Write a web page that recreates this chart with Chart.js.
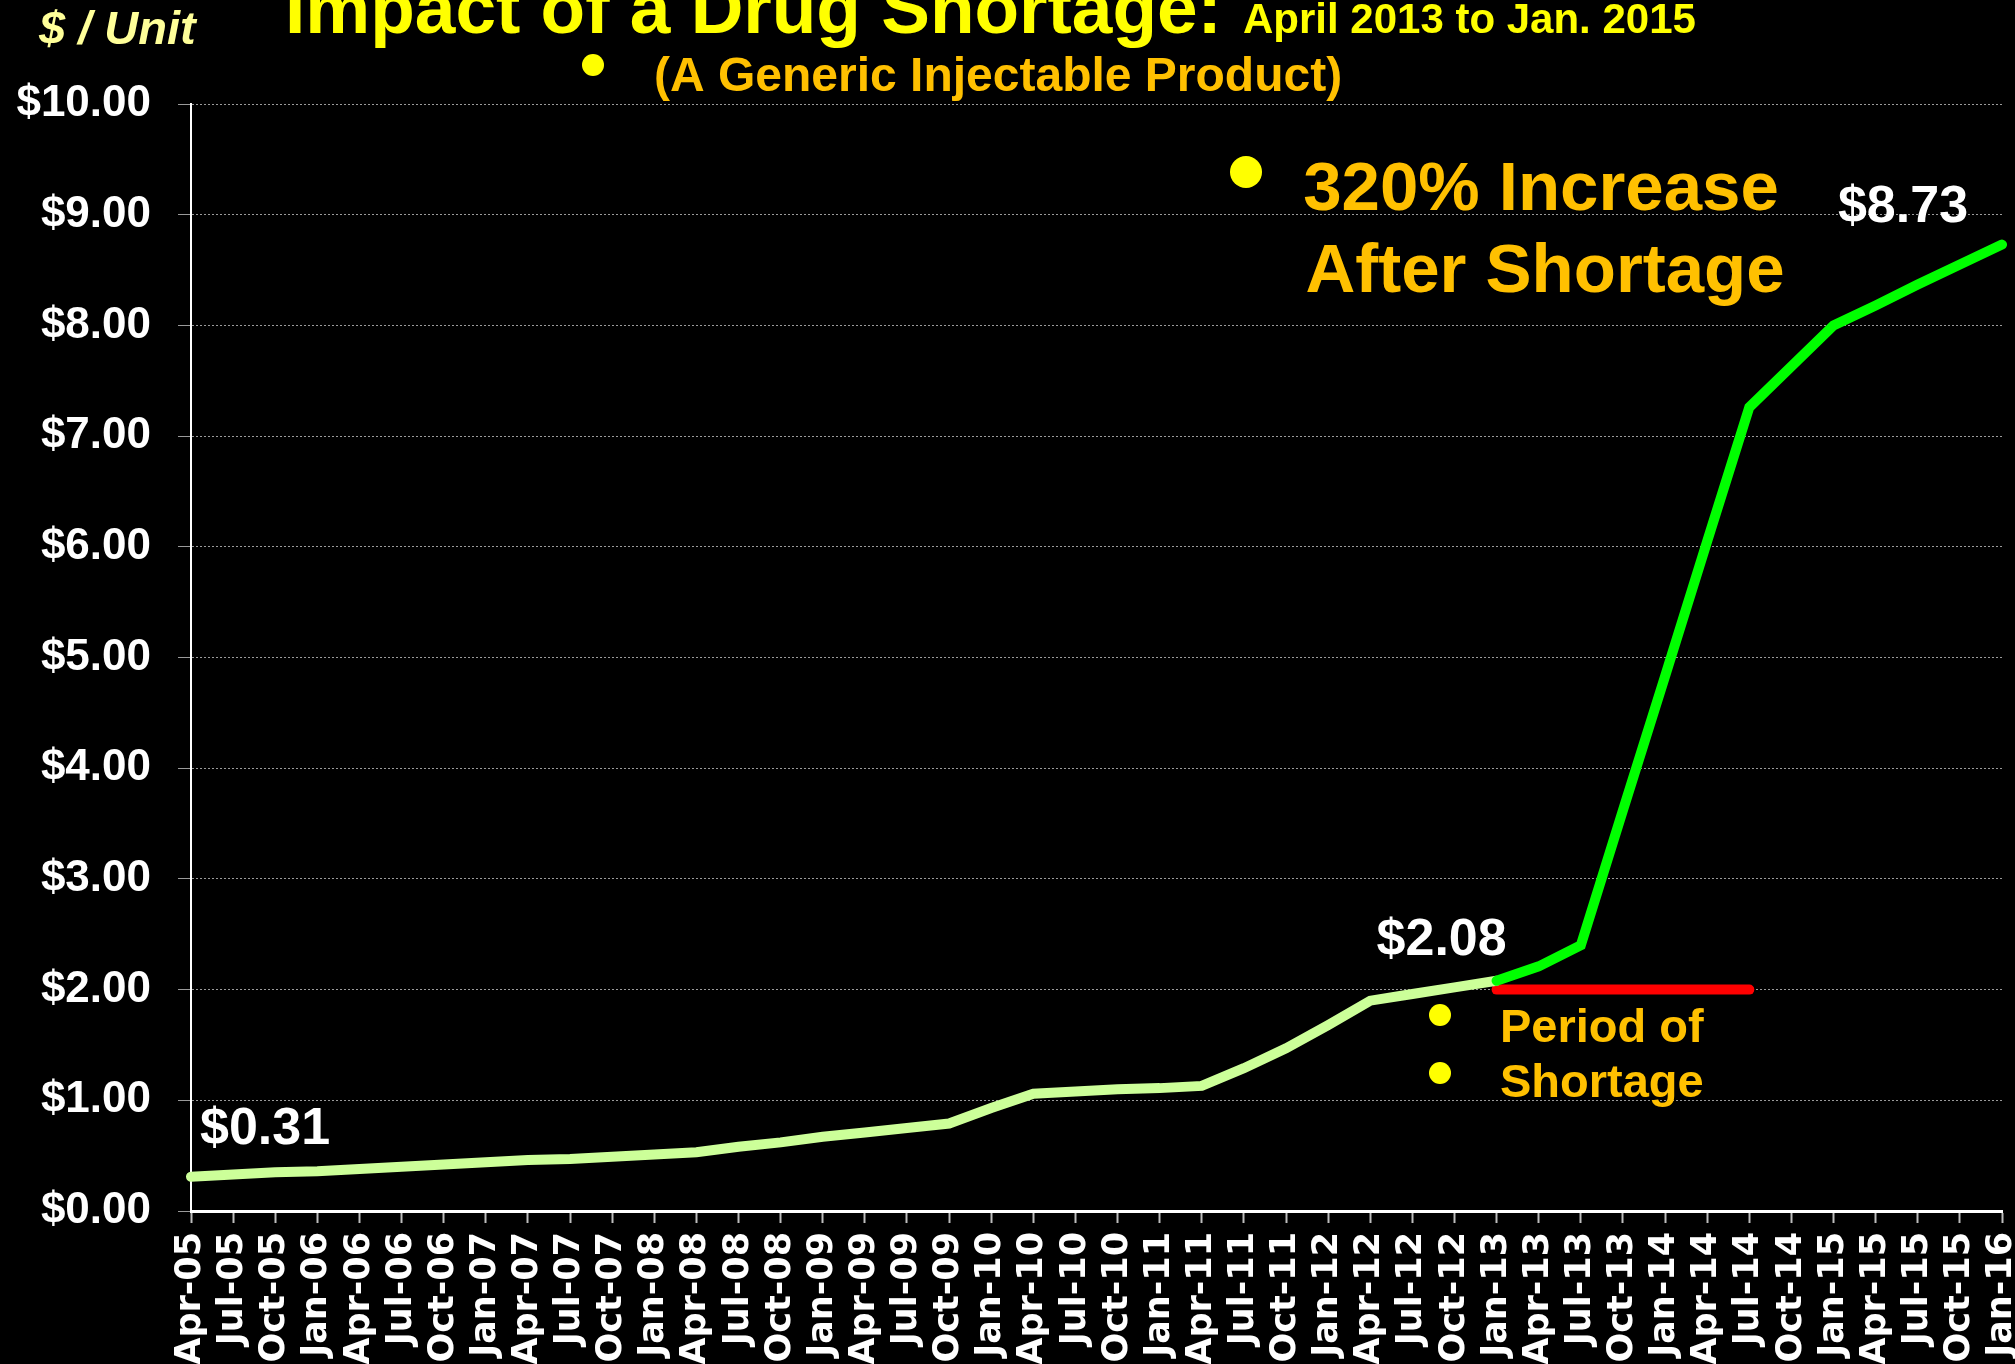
<!DOCTYPE html>
<html lang="en">
<head>
    <meta charset="UTF-8">
    <title>Impact of a Drug Shortage</title>
    <style>
        html, body { margin: 0; padding: 0; background: #000; }
        #myChart { width: 2015px !important; height: 1364px !important; display: block; }
    </style>
    <script src="https://cdn.jsdelivr.net/npm/chart.js"></script>
</head>
<body>
    <canvas id="myChart" width="2015" height="1364"></canvas>
    <script>
        // quarterly labels, Apr-05 .. Jan-16
        const quarters = ['Apr-05','Jul-05','Oct-05','Jan-06','Apr-06','Jul-06','Oct-06','Jan-07','Apr-07','Jul-07','Oct-07',
            'Jan-08','Apr-08','Jul-08','Oct-08','Jan-09','Apr-09','Jul-09','Oct-09','Jan-10','Apr-10','Jul-10','Oct-10',
            'Jan-11','Apr-11','Jul-11','Oct-11','Jan-12','Apr-12','Jul-12','Oct-12','Jan-13','Apr-13','Jul-13','Oct-13',
            'Jan-14','Apr-14','Jul-14','Oct-14','Jan-15','Apr-15','Jul-15','Oct-15','Jan-16'];

        // price per unit before the shortage (Apr-05 .. Jan-13)
        const beforePrice = [0.31, 0.33, 0.35, 0.36, 0.38, 0.40, 0.42, 0.44, 0.46, 0.47, 0.49,
            0.51, 0.53, 0.58, 0.62, 0.67, 0.71, 0.75, 0.79, 0.93, 1.06, 1.08, 1.10,
            1.11, 1.13, 1.29, 1.47, 1.68, 1.90, 1.96, 2.02, 2.08];

        // price per unit from Jan-13 on
        const afterPrice = [2.08, 2.21, 2.40, 3.62, 4.83, 6.05, 7.26, 7.63, 8.00, 8.18, 8.37, 8.55, 8.73];

        // period of shortage marker (Jan-13 .. Jul-14)
        const shortageStart = 31;
        const shortageLevel = [2.00, 2.00, 2.00, 2.00, 2.00, 2.00, 2.00];

        const yTicks = [0, 1, 2, 3, 4, 5, 6, 7, 8, 9, 10];

        const pad = (arr, start) => quarters.map((q, i) => (i >= start && i < start + arr.length) ? arr[i - start] : null);

        const FONT = '"Liberation Sans", Arial, sans-serif';

        const decorations = {
            id: 'decorations',
            afterDraw(chart) {
                const ctx = chart.ctx;
                const x = chart.scales.x, y = chart.scales.y;
                ctx.save();
                ctx.textBaseline = 'alphabetic';

                ctx.fillStyle = '#ffff99';
                ctx.font = 'italic bold 47px ' + FONT;
                ctx.textAlign = 'left';
                ctx.fillText('$ / Unit', 39, 44);

                ctx.fillStyle = '#ffff00';
                ctx.font = 'bold 73px ' + FONT;
                ctx.fillText('Impact of a Drug Shortage:', 285, 33);
                ctx.font = 'bold 42px ' + FONT;
                ctx.fillText('April 2013 to Jan. 2015', 1243, 33);

                ctx.fillStyle = '#ffc000';
                ctx.font = 'bold 48px ' + FONT;
                ctx.fillText('(A Generic Injectable Product)', 654, 91);

                ctx.font = 'bold 69px ' + FONT;
                ctx.textAlign = 'center';
                ctx.fillText('320% Increase', 1541, 210);
                ctx.fillText('After Shortage', 1545, 292);

                ctx.textAlign = 'left';
                ctx.font = 'bold 47px ' + FONT;
                ctx.fillText('Period of', 1500, 1042);
                ctx.fillText('Shortage', 1500, 1097);

                ctx.fillStyle = '#ffff00';
                [[593, 65, 11], [1246, 172, 16], [1440, 1015, 11], [1440, 1073, 11]].forEach(([cx, cy, r]) => {
                    ctx.beginPath();
                    ctx.arc(cx, cy, r, 0, Math.PI * 2);
                    ctx.fill();
                });

                // value call-outs placed from the data points
                ctx.fillStyle = '#ffffff';
                ctx.font = 'bold 52px ' + FONT;
                const first = beforePrice[0];
                ctx.textAlign = 'left';
                ctx.fillText('$' + first.toFixed(2), x.getPixelForValue(0) + 9, y.getPixelForValue(first) - 33);
                const mid = afterPrice[0];
                ctx.textAlign = 'center';
                ctx.fillText('$' + mid.toFixed(2), x.getPixelForValue(shortageStart) - 55, y.getPixelForValue(mid) - 26);
                const last = afterPrice[afterPrice.length - 1];
                ctx.fillText('$' + last.toFixed(2), x.getPixelForValue(quarters.length - 1) - 99, y.getPixelForValue(last) - 23);
                ctx.restore();
            }
        };

        const ctx = document.getElementById('myChart').getContext('2d');
        const myChart = new Chart(ctx, {
            type: 'line',
            data: {
                labels: quarters,
                datasets: [{
                    label: 'After',
                    data: pad(afterPrice, shortageStart),
                    borderColor: '#00ff00',
                    borderWidth: 10
                }, {
                    label: 'Before',
                    data: pad(beforePrice, 0),
                    borderColor: '#ccff99',
                    borderWidth: 10
                }, {
                    label: 'Shortage',
                    data: pad(shortageLevel, shortageStart),
                    borderColor: '#ff0000',
                    borderWidth: 10
                }]
            },
            options: {
                responsive: false,
                animation: false,
                elements: {
                    point: { radius: 0 },
                    line: { tension: 0, borderCapStyle: 'round', fill: false }
                },
                layout: { padding: { top: 104, right: 13, left: 0, bottom: 0 } },
                scales: {
                    x: {
                        grid: { drawOnChartArea: false, drawTicks: true, tickLength: 12, tickColor: '#bdbdbd', tickWidth: 2 },
                        border: { color: '#ffffff', width: 3 },
                        ticks: {
                            autoSkip: false,
                            maxRotation: 90,
                            minRotation: 90,
                            padding: 9,
                            color: '#ffffff',
                            font: { family: '"DejaVu Sans"', weight: 'bold', size: 35 }
                        },
                        afterFit: s => { s.height = 153; s.paddingLeft = 0; s.paddingRight = 0; }
                    },
                    y: {
                        min: 0,
                        max: 10,
                        afterBuildTicks: s => { s.ticks = yTicks.map(v => ({ value: v })); },
                        grid: { color: '#9a9a9a', lineWidth: 1, tickLength: 13, tickColor: '#9a9a9a' },
                        border: { color: '#ffffff', width: 2, dash: [2, 2] },
                        ticks: {
                            padding: 27,
                            color: '#ffffff',
                            font: { family: FONT, weight: 'bold', size: 44 },
                            callback: v => '$' + v.toFixed(2)
                        },
                        afterFit: s => { s.width = 191; s.paddingTop = 0; s.paddingBottom = 0; }
                    }
                },
                plugins: {
                    legend: { display: false },
                    tooltip: { enabled: false }
                }
            },
            plugins: [decorations]
        });
    </script>
</body>
</html>
